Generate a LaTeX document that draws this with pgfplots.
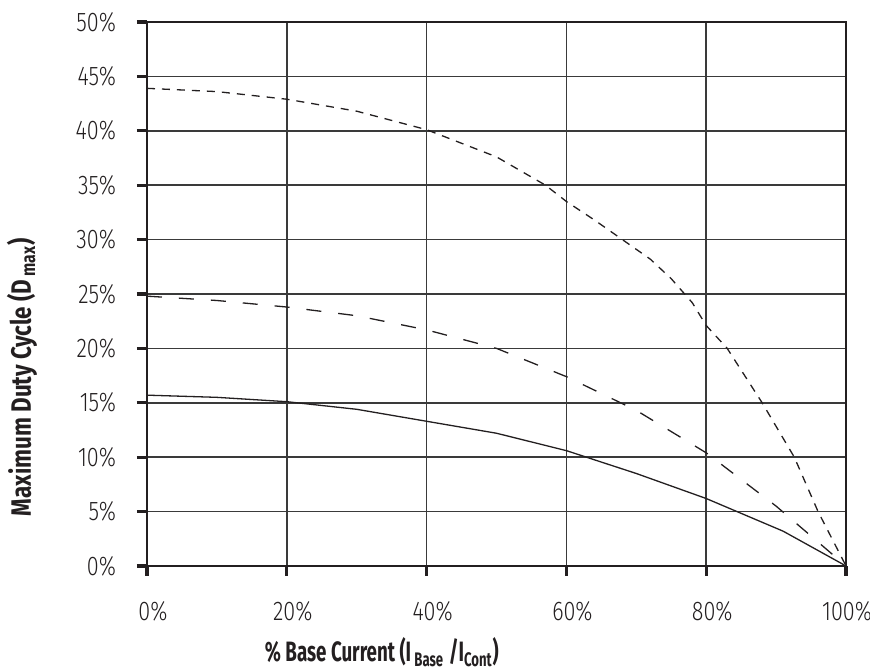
\documentclass[border=0pt]{standalone}
\usepackage{fontspec}
\setmainfont{Fira Sans}[FakeStretch=0.8, UprightFont=* Light, BoldFont=* Bold]
\newfontfamily\xlabfont{Fira Sans}[FakeStretch=0.67, UprightFont=* Bold]
\newfontfamily\ylabfont{Fira Sans}[FakeStretch=0.8, UprightFont=* Bold]
\usepackage{pgfplots}
\pgfplotsset{compat=1.18}
\definecolor{ink}{HTML}{231F20}
\definecolor{gridc}{HTML}{3A3A3A}

\begin{document}
\begin{tikzpicture}
\begin{axis}[
  scale only axis,
  width=349.5pt, height=272pt,
  xmin=0, xmax=100, ymin=0, ymax=50,
  xtick={0,20,40,60,80,100},
  ytick={0,5,...,50},
  xtick pos=bottom, ytick pos=left,
  xticklabels={0\%,\raisebox{-1.5pt}{20\%},40\%,60\%,\raisebox{-1.5pt}{80\%},\hspace*{-5pt}100\%},
  yticklabel={\pgfmathprintnumber{\tick}\%},
  /pgf/number format/assume math mode=true,
  tick label style={font=\fontsize{13.5}{13.5}\selectfont, text=ink},
  xticklabel style={yshift=-9pt, xshift=3pt},
  yticklabel style={xshift=-7pt},
  tick align=outside,
  major tick length=5pt,
  tick style={line width=1.6pt, ink},
  axis line style={line width=1.3pt, ink},
  grid=major,
  grid style={line width=0.75pt, gridc},
  clip=false,
  xlabel={\% Base Current (I\textsubscript{\,Base}\,/I\textsubscript{Cont})},
  ylabel={Maximum Duty Cycle (D\textsubscript{\,max})},
  xlabel style={font=\xlabfont\fontsize{14}{14}\selectfont, text=ink,
    at={(rel axis cs:0.336,0)}, anchor=center, yshift=-43pt},
  ylabel style={font=\ylabfont\fontsize{14}{14}\selectfont, text=ink,
    at={(rel axis cs:-0.179,0.347)}, anchor=center},
]
\addplot[ink, line width=0.65pt] coordinates {
  (0,15.7) (10,15.5) (20,15.1) (30,14.4) (40,13.3) (50,12.2)
  (60,10.6) (70,8.5) (80,6.2) (91,3.2) (100,0)
};
\addplot[ink, line width=0.65pt, dash pattern=on 7.5pt off 8.5pt] coordinates {
  (0,24.8) (10,24.4) (20,23.8) (30,23.0) (40,21.7) (50,20.0)
  (60,17.4) (70,14.3) (80,10.4) (90,5.5) (100,0)
};
\addplot[ink, line width=0.65pt, dash pattern=on 4pt off 3.5pt] coordinates {
  (0,43.9) (10,43.6) (20,42.9) (30,41.8) (40,40.1) (50,37.6)
  (57,35) (60,33.5) (64,31.8) (68,30) (72,28.2) (75,26.4) (78,24.2)
  (80,22.1) (83,20) (88,15) (92.6,10) (96,5) (100,0)
};
\coordinate (bl) at (rel axis cs:-0.2103,-0.1893);
\coordinate (tr) at (rel axis cs:1.0343,1.0404);
\end{axis}
\pgfresetboundingbox
\path[use as bounding box] (bl) rectangle (tr);
\end{tikzpicture}
\end{document}
